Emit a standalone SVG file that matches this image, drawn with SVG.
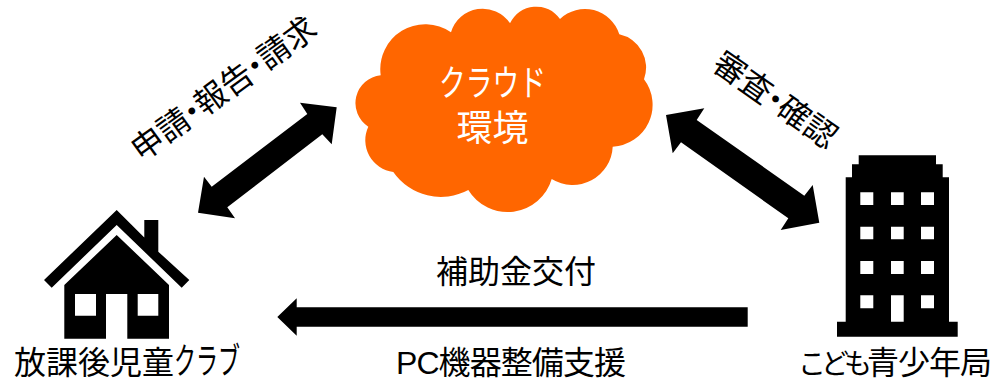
<svg xmlns="http://www.w3.org/2000/svg" width="994" height="381" viewBox="0 0 994 381">
<style>
text{font-family:"Liberation Sans","Noto Sans CJK JP",sans-serif;font-size:32px;fill:#000}
.m{text-anchor:middle}
.w{fill:#fff}.c{font-size:36px}
.k1{font-size:36px}.k2{font-size:28px;letter-spacing:-5px}.n{letter-spacing:-1px}
</style>
<rect width="994" height="381" fill="#fff"/>
<g id="connectors">
<polygon points="336.7,107.3 300,102.7 307.3,114 211.7,186.7 204,176.7 198,212.7 235,218.3 227.3,207.3 322.3,134.3 331.7,144.3"/>
<polygon points="666,115 704.3,108.3 696.7,120 804.3,195.7 812.7,185 819.3,222.7 780.7,230 788.3,218.3 681,142.3 672.7,153.3"/>
<polygon points="277.3,317 296.7,298.3 296.7,307.3 747.7,307.3 747.7,326.7 296.7,326.7 296.7,335.7"/>
</g>
<g id="cloud">
<path fill="#ff6600" d="M380.7,75.3A45,45 0 0 1 451,32.3A33,33 0 0 1 510,23.3A29,29 0 0 1 560,19A36,36 0 0 1 619.3,34.3A34,34 0 0 1 644,79.3A42,42 0 0 1 612.7,146.7A40,40 0 0 1 551.7,179A46,46 0 0 1 468.3,190A58,58 0 0 1 393.3,172A32,32 0 0 1 368.3,126.7A28,28 0 0 1 380.7,75.3Z"/>
<text class="w c" x="439" y="96" textLength="107" lengthAdjust="spacingAndGlyphs">クラウド</text>
<text class="w c m" x="492.5" y="141">環境</text>
</g>
<g id="club">
<polygon points="116.7,210 144.3,237.6 144.3,220 158.3,220 158.3,251.7 189.3,280 181.7,287.7 116.7,225 51.7,287.7 44,280"/>
<path fill-rule="evenodd" d="M116.7,235L169,285V338.7H127.3V294H106V338.7H64.3V285ZM75,294V315.7H96V294ZM137.7,294V315.7H158.3V294Z"/>
<text x="14" y="374">放課後児童<tspan class="k1" textLength="66" lengthAdjust="spacingAndGlyphs">クラブ</tspan></text>
</g>
<g id="agency">
<path fill-rule="evenodd" d="M858.7,155.3H936V164.3H942.7V177.3H949V321.7H957.7V336.7H837V321.7H845.7V177.3H852V164.3H858.7ZM860.3,192.3V205H873.3V192.3ZM891,192.3V205H903.7V192.3ZM921,192.3V205H934V192.3ZM860.3,226.7V239.3H873.3V226.7ZM891,226.7V239.3H903.7V226.7ZM921,226.7V239.3H934V226.7ZM860.3,261V274H873.3V261ZM891,261V274H903.7V261ZM921,261V274H934V261ZM860.3,295.3V308.3H873.3V295.3ZM891,295.3V321.7H903.7V295.3ZM921,295.3V308.3H934V295.3Z"/>
<text x="798" y="374"><tspan class="k2">こども</tspan><tspan class="n">青少年局</tspan></text>
</g>
<g id="labels">
<text class="m" x="516" y="283">補助金交付</text>
<text x="396" y="374" textLength="230">PC機器整備支援</text>
<text class="m" transform="translate(224,89) rotate(-36)" y="11">申請<tspan dx="-9">・</tspan><tspan dx="-9">報告</tspan><tspan dx="-9">・</tspan><tspan dx="-9">請求</tspan></text>
<text class="m" transform="translate(775,100) rotate(35)" y="11">審査<tspan dx="-9">・</tspan><tspan dx="-9">確認</tspan></text>
</g>
</svg>
